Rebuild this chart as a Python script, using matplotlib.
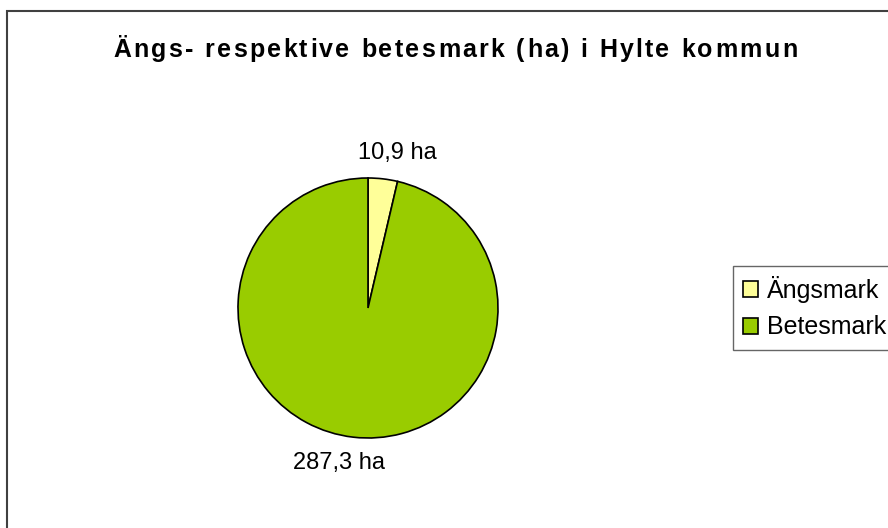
import numpy as np
import matplotlib
matplotlib.use("Agg")
import matplotlib.pyplot as plt
from matplotlib.patches import Patch, Rectangle

plt.rcParams['font.family'] = ['Liberation Sans', 'DejaVu Sans']

# data
categories = ["Ängsmark", "Betesmark"]
values = [10.9, 287.3]
value_labels = ["10,9 ha", "287,3 ha"]
colors = ["#FFFF99", "#99CC00"]
title = "Ängs- respektive betesmark (ha) i Hylte kommun"

W, H = 888, 528
fig = plt.figure(figsize=(W / 100, H / 100), dpi=100)
renderer = fig.canvas.get_renderer()


def text_width(s, **kw):
    t = fig.text(0, 0, s, **kw)
    w = t.get_window_extent(renderer).width
    t.remove()
    return w


def spaced_text(s, x0, x1, y, **kw):
    # excel-like wide letter spacing: spread chars between x0 and x1 (px)
    bar = text_width("|", **kw)
    offs = [text_width(s[:i] + "|", **kw) - bar for i in range(len(s))]
    natural = text_width(s, **kw)
    gap = ((x1 - x0) - natural) / (len(s) - 1)
    for i, ch in enumerate(s):
        fig.text((x0 + offs[i] + i * gap) / W, 1 - y / H, ch,
                 ha="left", va="baseline", **kw)


# outer frame (only left/top visible, rest cut off)
fig.patches.append(Rectangle((7 / W, -0.1), 1.2, (H - 11) / H + 0.1,
                             transform=fig.transFigure, fill=False,
                             edgecolor="#404040", linewidth=1.5))

# pie axes: center (368, 308) px, radius 130 px
cx, cy, r = 368, H - 308, 130
ax = fig.add_axes([(cx - r) / W, (cy - r) / H, 2 * r / W, 2 * r / H])
wedges, _ = ax.pie(values, colors=colors,
                   startangle=90, counterclock=False,
                   wedgeprops=dict(edgecolor="black", linewidth=1.2))
# value labels outside, slightly rotated clockwise like excel does
for w, lab in zip(wedges, value_labels):
    ang = np.deg2rad((w.theta1 + w.theta2) / 2 - 4)
    ax.text(1.21 * np.cos(ang), 1.21 * np.sin(ang), lab,
            ha="center", va="center", fontsize=17)
ax.set_xlim(-1, 1)
ax.set_ylim(-1, 1)
ax.set_aspect("equal")
ax.axis("off")

spaced_text(title, 113, 797, 57, fontsize=18, fontweight="bold")

handles = [Patch(facecolor=c, edgecolor="black", linewidth=1.2) for c in colors]
leg = fig.legend(handles, categories, loc="upper left",
                 bbox_to_anchor=(733 / W, 1 - 266 / H),
                 fontsize=18, frameon=True, fancybox=False,
                 handlelength=0.6, handleheight=0.6, handletextpad=0.35,
                 borderpad=0.4, labelspacing=0.5, borderaxespad=0)
leg.get_frame().set_edgecolor("#404040")
leg.get_frame().set_linewidth(1.0)

fig.savefig("out.png", dpi=100, facecolor="white")
